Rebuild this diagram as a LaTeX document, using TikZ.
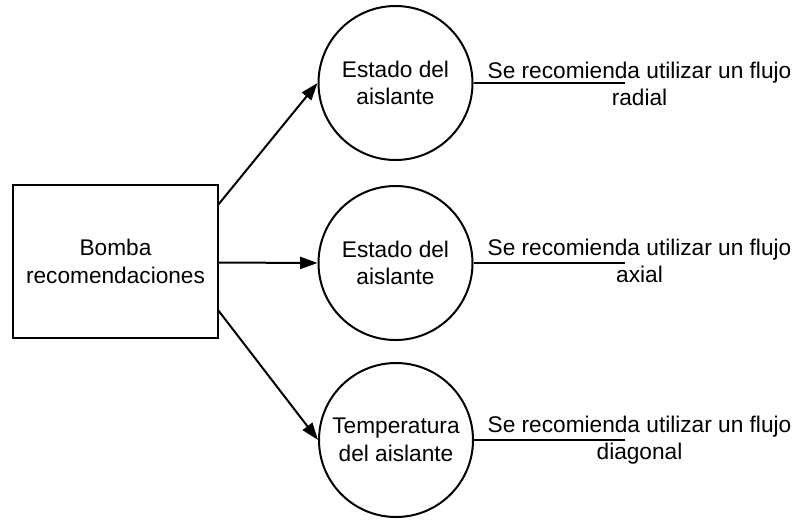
\documentclass[tikz,border=0pt]{standalone}
\usepackage{fontspec}
\setmainfont{Liberation Sans}
\usetikzlibrary{arrows.meta}
\begin{document}
\begin{tikzpicture}[x=0.75pt,y=-0.75pt,
  every node/.style={font=\fontsize{17}{20.8}\selectfont, align=center, inner sep=0pt},
  proc/.style={draw, line width=1.5pt, circle, minimum size=115.5pt},
  box/.style={draw, line width=1.5pt, rectangle, minimum width=153.75pt, minimum height=114.75pt},
  arr/.style={line width=1.5pt, -{Triangle[length=13pt,width=9pt]}},
  ln/.style={line width=1.5pt}]
\useasboundingbox (0,0) rectangle (795,519);
\node[box] (b) at (115.5,261.5) {Bomba\\recomendaciones};
\node[proc] (c1) at (395.5,83) {Estado del\\aislante};
\node[proc] (c2) at (395.5,263) {Estado del\\aislante};
\node[proc] (c3) at (396,440) {Temperatura\\del aislante};
\coordinate (s1) at (218,205);
\coordinate (s2) at (218,262.5);
\coordinate (s3) at (218,310);
\draw[arr] (s1) -- (c1.west);
\draw[arr] (s2) -- (c2.west);
\draw[arr] (s3) -- (c3.west);
\coordinate (e1) at (625,83);
\coordinate (e2) at (625,263);
\coordinate (e3) at (625,440);
\draw[ln] (c1.east) -- (e1);
\draw[ln] (c2.east) -- (e2);
\draw[ln] (c3.east) -- (e3);
\node (t1) at (639.5,84) {Se recomienda utilizar un flujo\\radial};
\node (t2) at (639.5,261) {Se recomienda utilizar un flujo\\axial};
\node (t3) at (639.5,440) {Se recomienda utilizar un flujo\\diagonal};
\end{tikzpicture}
\end{document}
